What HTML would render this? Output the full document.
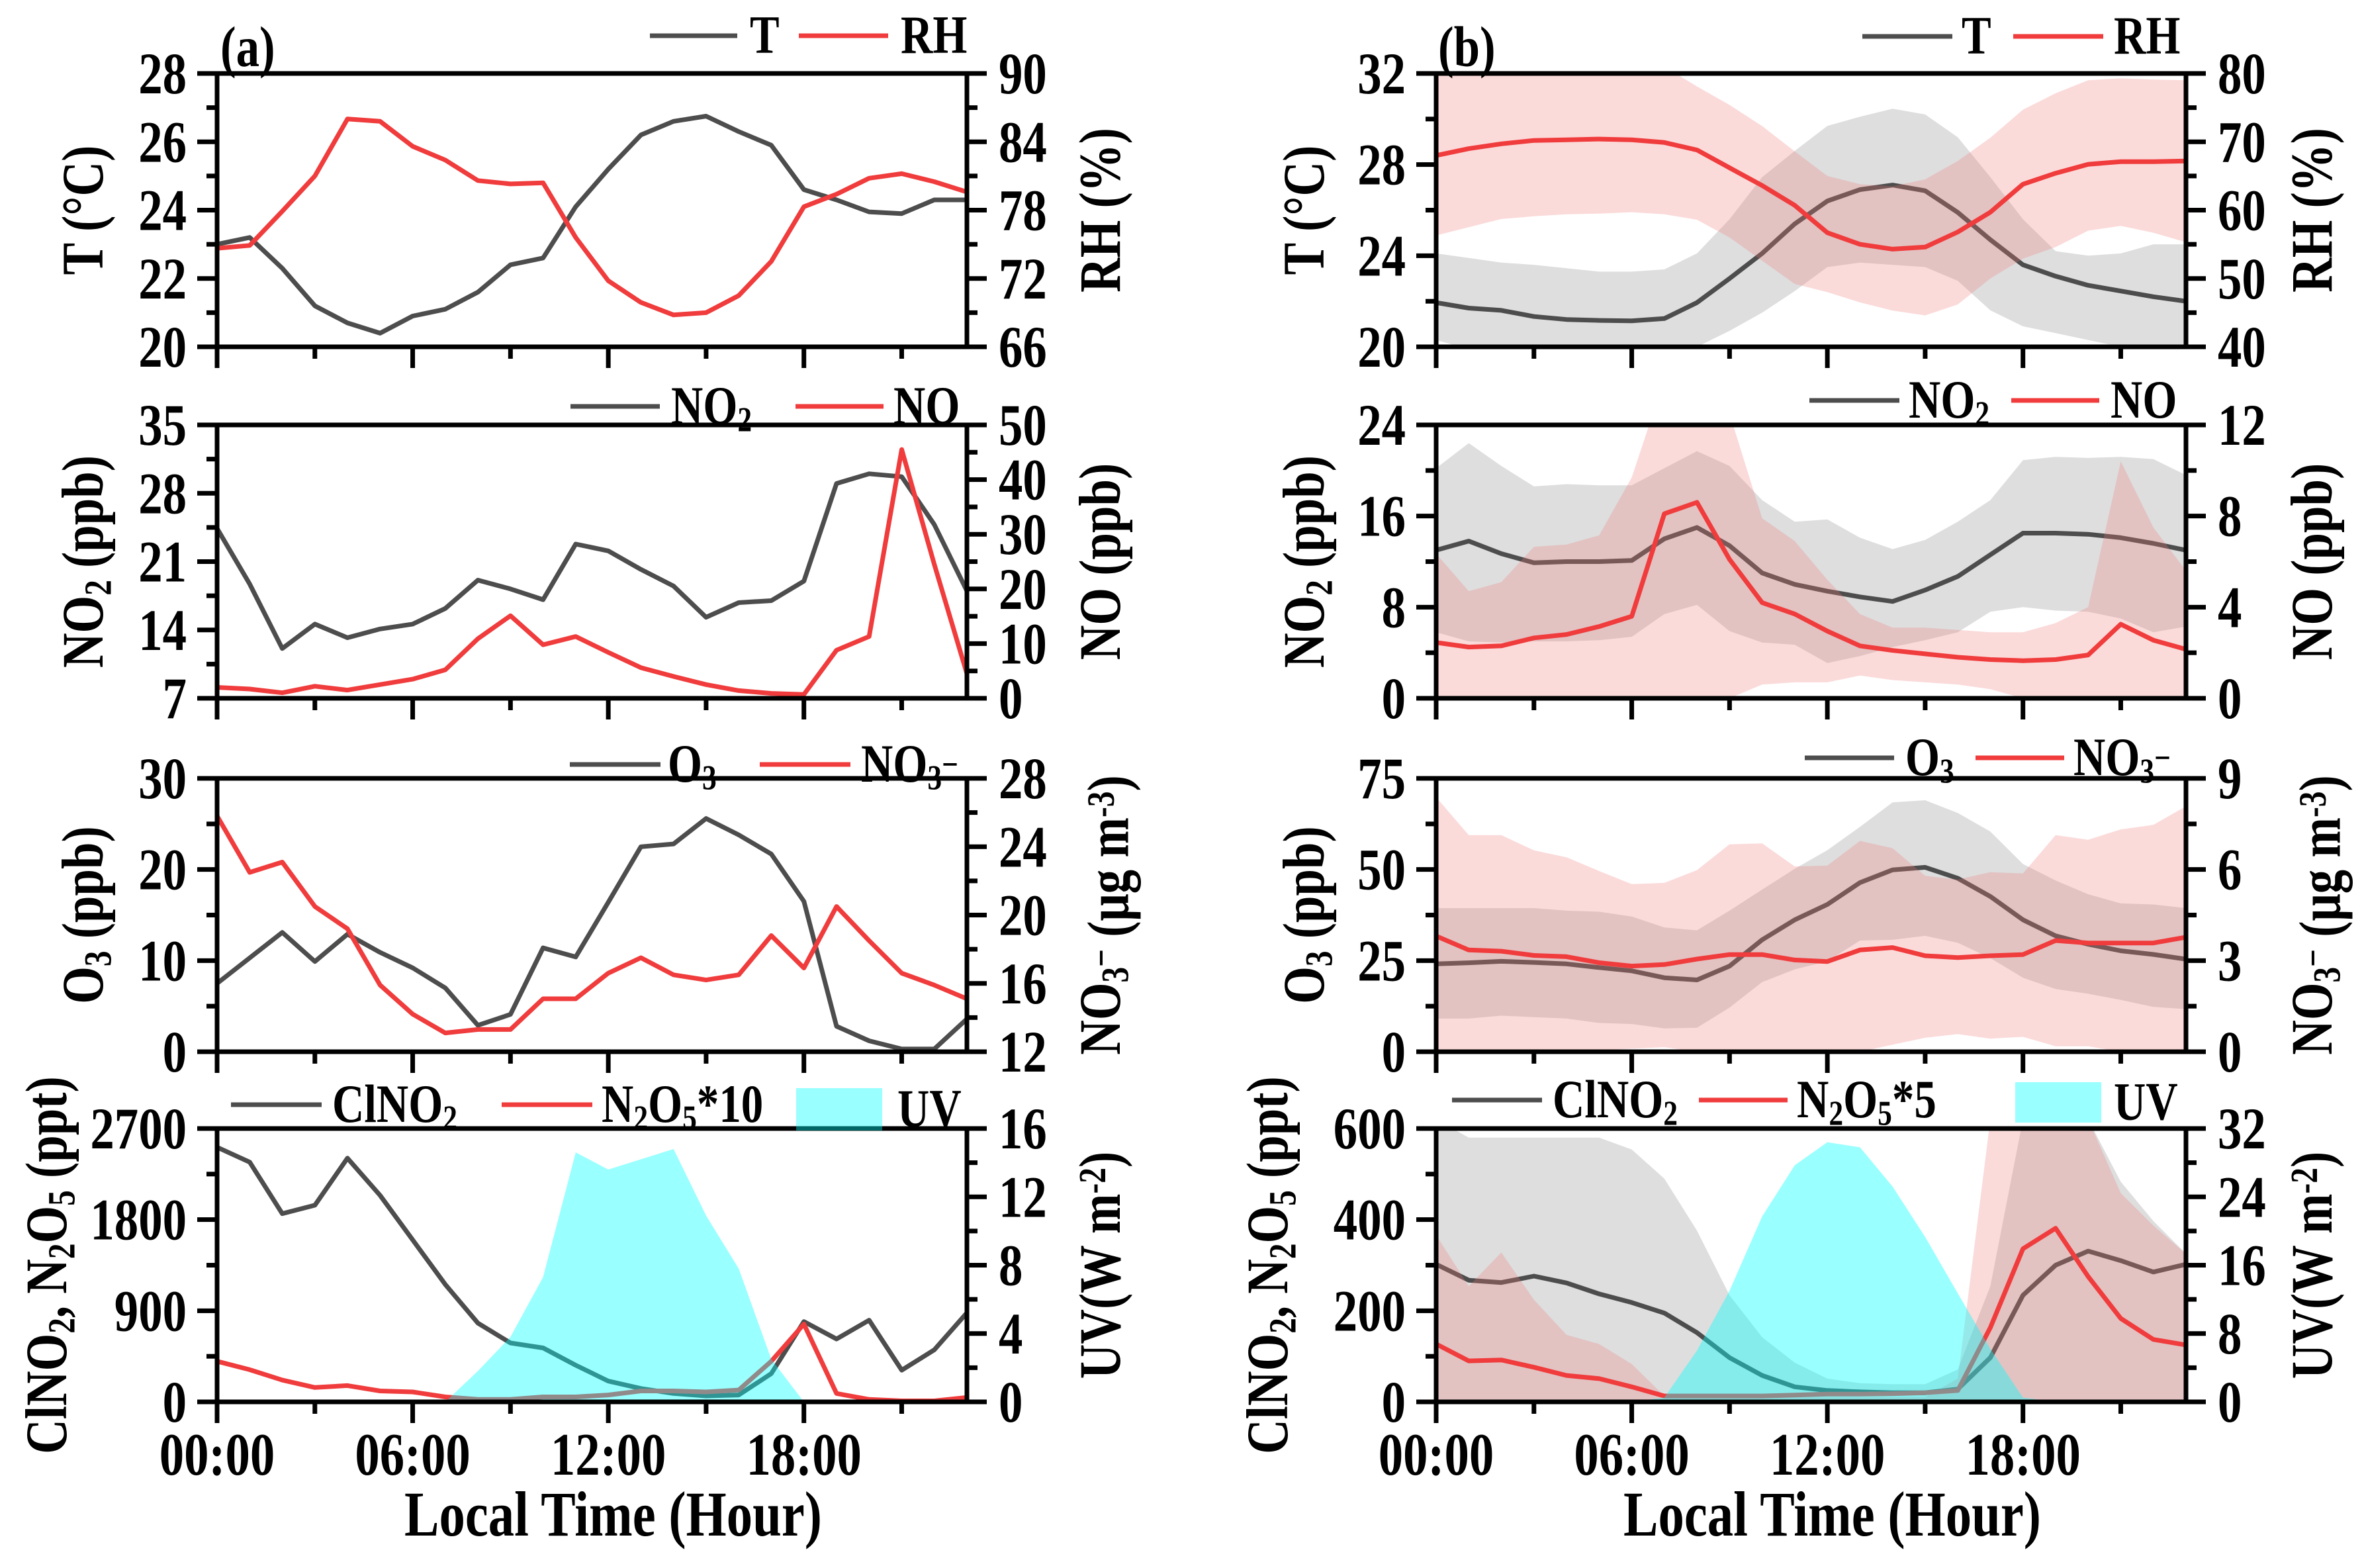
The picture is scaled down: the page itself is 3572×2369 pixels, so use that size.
<!DOCTYPE html>
<html><head><meta charset="utf-8"><style>
html,body{margin:0;padding:0;background:#fff}
svg text{font-family:"Liberation Serif","DejaVu Serif",serif;font-weight:bold;fill:#000}
</style></head><body>
<svg id="chart" xmlns="http://www.w3.org/2000/svg" width="3572" height="2364" viewBox="0 0 3572 2364">
<rect x="0" y="0" width="3572" height="2364" fill="#fff"/>
</svg>
<script>
// ---------- data (hour 0..23) ----------
const hours = [0,1,2,3,4,5,6,7,8,9,10,11,12,13,14,15,16,17,18,19,20,21,22,23];
// panel (a)
const aT   = [23.0,23.2,22.3,21.2,20.7,20.4,20.9,21.1,21.6,22.4,22.6,24.1,25.2,26.2,26.6,26.75,26.3,25.9,24.6,24.3,23.95,23.9,24.3,24.3];
const aRH  = [74.65,74.9,77.9,81,86,85.8,83.6,82.4,80.6,80.3,80.4,75.6,71.8,69.9,68.8,69,70.5,73.5,78.3,79.4,80.8,81.2,80.5,79.6];
const aNO2 = [24.4,18.7,12.1,14.6,13.2,14.1,14.6,16.2,19.1,18.2,17.1,22.8,22.1,20.2,18.5,15.3,16.8,17,19,29,30,29.7,24.8,18];
const aNO  = [2,1.7,1,2.2,1.5,2.5,3.5,5.2,10.9,15.1,9.8,11.3,8.4,5.6,4,2.5,1.4,0.9,0.7,8.8,11.3,45.5,24.5,4.5];
const aO3  = [7.5,10.3,13.1,9.9,12.9,10.9,9.2,7,2.9,4.1,11.4,10.4,16.4,22.5,22.8,25.6,23.8,21.7,16.5,2.8,1.2,0.3,0.3,3.6];
const aNO3 = [25.8,22.5,23.1,20.5,19.2,15.9,14.2,13.1,13.3,13.3,15.1,15.1,16.6,17.5,16.5,16.2,16.5,18.8,16.9,20.5,18.5,16.6,15.9,15.1];
const aClNO2 = [2515,2368,1859,1942,2407,2040,1600,1160,778,582,533,362,205,132,83,59,68,279,793,621,807,313,514,880];
const aN2O5  = [401,318,215,142,161,108,98,49,24,24,49,49,68,108,108,98,117,401,768,83,24,10,10,44];
const aUV    = [0,0,0,0,0,0,0,0,1.8,3.8,7.3,14.6,13.6,14.2,14.8,10.9,7.8,2.5,0,0,0,0,0,0];
// panel (b) means and ranges
const bT   = [21.94,21.7,21.6,21.33,21.2,21.16,21.14,21.24,21.94,23,24.1,25.4,26.4,26.9,27.1,26.85,25.9,24.7,23.6,23.1,22.7,22.45,22.2,22];
const bTHi = [24.1,23.9,23.7,23.6,23.45,23.3,23.3,23.4,24.1,25.6,27.45,28.6,29.7,30.1,30.45,30.2,29.2,27.45,25.6,24.2,24,24.1,24.5,24.5];
const bTLo = [20.3,19.9,19.5,19.5,19.5,19.5,19.5,19.5,20,20.7,21.5,22.45,23.5,23.7,23.6,23.5,22.9,21.6,20.9,20.6,20.3,20,19.9,19.9];
const bRH  = [68,69,69.7,70.2,70.3,70.4,70.3,69.9,68.8,66.2,63.6,60.7,56.7,55,54.3,54.6,56.8,59.7,63.8,65.4,66.7,67.1,67.1,67.2];
const bRHHi= [81,81,81,81,81,81,81,81,78.1,75.4,72.3,68.6,65,63.8,63.5,64.5,67.2,70.6,74.7,77.1,79,79.3,79.1,79];
const bRHLo= [56.3,57.5,58.7,59.1,59.4,59.5,59.7,59.4,58.6,56,52.6,49.2,48,46.5,45.3,44.6,46.2,50,52.9,54.6,57,57.7,56.7,55.3];
const bNO2  = [13,13.8,12.7,11.9,12,12,12.1,14,15,13.4,11,10,9.4,8.9,8.5,9.5,10.7,12.6,14.5,14.5,14.4,14.1,13.6,13];
const bNO2Hi= [20.2,22.4,20.4,18.6,18.8,18.7,18.7,20.2,21.7,20.4,17.4,15.5,15.7,14.1,13.1,13.9,15.5,17.4,20.9,21.2,21.1,21.2,21,19.6];
const bNO2Lo= [5.8,5,4.9,5,5,5.1,5.4,7.4,8.2,5.9,4.9,4.7,3.1,3.7,4.5,5.1,5.8,7.6,8,7.7,7.6,7,5.8,6.3];
const bNO   = [2.45,2.25,2.3,2.65,2.8,3.15,3.6,8.1,8.6,6.1,4.2,3.7,2.95,2.3,2.1,1.95,1.8,1.7,1.65,1.7,1.9,3.25,2.55,2.15];
const bNOHi = [6.35,4.7,5.1,6.65,6.75,7.15,9.7,14,14,12.5,7.9,6.9,5.2,3.7,3.1,3.1,3,2.9,2.9,3.3,4,10.4,7.5,5.6];
const bNOLo = [0,0,0,0,0,0,0,0,0,0,0.6,0.7,0.7,1,0.8,0.7,0.6,0.4,0,0,0,0,0,0];
const bO3   = [24.1,24.4,24.8,24.5,24.1,23.1,22.2,20.3,19.7,23.5,30.7,36.2,40.4,46.4,49.9,50.6,47.6,42.6,36.2,31.8,29.5,27.7,26.7,25.4];
const bO3Hi = [39.4,39.4,39.4,39.4,38.7,38.4,37.1,34.1,33.3,38.7,44.5,50.2,55.3,61.7,68.4,69,65.5,60.4,51.5,47,43.2,40.7,40.4,39.4];
const bO3Lo = [9.1,9.1,9.9,9.5,9.1,7.9,7.6,6.4,6.6,12.1,19.1,22.6,24.8,30.5,30.7,31.8,29.9,25.7,20.3,17.2,15.9,14.2,12.3,11.7];
const bNO3  = [3.81,3.35,3.31,3.17,3.13,2.93,2.82,2.87,3.05,3.2,3.2,3.02,2.97,3.35,3.43,3.16,3.1,3.16,3.2,3.66,3.58,3.58,3.58,3.77];
const bNO3Hi= [8.38,7.13,7.13,6.63,6.4,5.95,5.52,5.56,5.98,6.83,6.86,6.1,6.13,6.94,6.7,5.79,5.67,5.91,5.87,7.13,6.98,7.32,7.47,8.08];
const bNO3Lo= [0,0,0,0,0,0.05,0.1,0.15,0,0,0,0,0,0,0.23,0.46,0.58,0.43,0.49,0.18,0.18,0,0,0];
const bClNO2  = [302,267,262,276,261,237,218,195,152,97,58,33,25,22,20,20,28,97,234,300,331,310,285,302];
const bClNO2Hi= [620,580,580,580,580,580,554,490,376,234,142,86,51,41,39,39,71,254,620,620,620,483,397,325];
const bClNO2Lo= [0,0,0,0,0,0,0,5,5,5,5,5,5,5,5,5,5,0,0,0,0,0,0,0];
const bN2O5   = [127,90,92,76,58,51,33,13,13,13,13,15,17,17,18,20,25,163,336,381,275,183,137,125];
const bN2O5Hi = [366,254,328,224,147,127,83,13,10,10,10,10,10,10,10,10,51,620,620,620,620,458,387,325];
const bN2O5Lo = [0,0,0,0,0,0,0,0,0,0,0,0,0,0,0,0,0,0,0,0,0,0,0,0];
const bUV     = [0,0,0,0,0,0,0,0.5,6,13,21.7,27.7,30.4,29.8,25.2,19.3,12.7,6.2,0.5,0,0,0,0,0];
// tick labels
const xTickLabels = ["00:00","06:00","12:00","18:00"];

// ---------- drawing ----------
const NS = "http://www.w3.org/2000/svg";
const svg = document.getElementById("chart");
const GREY = "#4d4d4d", RED = "#f03c3c";
const BAND_GREY = "rgba(128,128,128,0.26)", BAND_RED = "rgba(240,120,120,0.27)", UVC = "rgba(0,255,255,0.4)";
const H = 413;
const TOPS = [111, 642, 1176, 1705];
const COLS = {a:[328,1461], b:[2170,3303]};
const FS = 1.2, SX = 0.82;

function el(tag, attrs, parent, name, inter) {
  const e = document.createElementNS(NS, tag);
  for (const k in attrs) e.setAttribute(k, attrs[k]);
  
  
  (parent || svg).appendChild(e);
  return e;
}
function txt(x, y, html, size, anchor, name, parent, rot) {
  const t = el('text', {x:0, y:0, 'font-size':size*FS, 'text-anchor':anchor||'start'}, parent, name, false);
  t.setAttribute('transform', rot ? `translate(${x} ${y}) rotate(-90) scale(${SX} 1)` : `translate(${x} ${y}) scale(${SX} 1)`);
  t.innerHTML = html;
  return t;
}
const sub = (s) => `<tspan dy="0.22em" font-size="65%">${s}</tspan><tspan dy="-0.143em">`;
const sup = (s) => `<tspan dy="-0.38em" font-size="65%">${s}</tspan><tspan dy="0.247em">`;

function makePanel(id, col, row, lDom, rDom, lTicks, lMinor, rTicks, rMinor) {
  const [x0, x1] = COLS[col];
  const y0 = TOPS[row], y1 = y0 + H;
  const g = el('g', {}, svg, 'panel-' + id, false);
  const X = h => x0 + (h / 23) * (x1 - x0);
  const YL = v => y1 - (v - lDom[0]) / (lDom[1] - lDom[0]) * H;
  const YR = v => y1 - (v - rDom[0]) / (rDom[1] - rDom[0]) * H;
  const cid = 'clip-' + id;
  const cp = el('clipPath', {id: cid}, g, 'clip-' + id, false);
  el('rect', {x:x0, y:y0, width:x1-x0, height:H}, cp, 'clip-rect', false);
  const plot = el('g', {'clip-path': `url(#${cid})`}, g, 'plot-area-' + id, false);
  return {g, plot, X, YL, YR, x0, x1, y0, y1, lDom, rDom, lTicks, lMinor, rTicks, rMinor, id};
}
function linePath(P, arr, Y) {
  return arr.map((v, i) => (i ? 'L' : 'M') + P.X(hours[i]).toFixed(1) + ',' + Y(v).toFixed(1)).join('');
}
function drawLine(P, arr, Y, color, name) {
  el('path', {d: linePath(P, arr, Y), fill:'none', stroke:color, 'stroke-width':7, 'stroke-linejoin':'round'}, P.plot, name, false);
}
function drawBand(P, lo, hi, Y, color, name) {
  let d = linePath(P, hi, Y);
  for (let i = lo.length - 1; i >= 0; i--) d += 'L' + P.X(hours[i]).toFixed(1) + ',' + Y(lo[i]).toFixed(1);
  el('path', {d: d + 'Z', fill: color, stroke: 'none'}, P.plot, name, false);
}
function drawArea(P, arr, Y, color, name) {
  let d = linePath(P, arr, Y);
  d += `L${P.X(23)},${Y(0)}L${P.X(0)},${Y(0)}Z`;
  el('path', {d, fill: color, stroke: 'none'}, P.plot, name, false);
}
function drawAxes(P, lTitle, rTitle, lx, rx, showX) {
  const g = P.g;
  el('rect', {x:P.x0, y:P.y0, width:P.x1-P.x0, height:H, fill:'none', stroke:'#000', 'stroke-width':7}, g, 'plot-frame', false);
  const S = {stroke:'#000', 'stroke-width':7};
  P.lTicks.forEach(v => {
    const y = P.YL(v);
    el('line', {x1:P.x0-30, x2:P.x0, y1:y, y2:y, ...S}, g, 'left-tick', false);
    txt(P.x0 - 46, y + 30, String(v), 74, 'end', 'left-tick-label', g);
  });
  P.lMinor.forEach(v => { const y = P.YL(v); el('line', {x1:P.x0-16, x2:P.x0, y1:y, y2:y, ...S}, g, 'left-minor-tick', false); });
  P.rTicks.forEach(v => {
    const y = P.YR(v);
    el('line', {x1:P.x1, x2:P.x1+30, y1:y, y2:y, ...S}, g, 'right-tick', false);
    txt(P.x1 + 48, y + 30, String(v), 74, 'start', 'right-tick-label', g);
  });
  P.rMinor.forEach(v => { const y = P.YR(v); el('line', {x1:P.x1, x2:P.x1+16, y1:y, y2:y, ...S}, g, 'right-minor-tick', false); });
  for (let h = 0; h <= 21; h += 3) {
    const x = P.X(h), major = h % 6 === 0;
    el('line', {x1:x, x2:x, y1:P.y1, y2:P.y1 + (major ? 32 : 18), ...S}, g, major ? 'x-tick' : 'x-minor-tick', false);
  }
  if (showX) {
    xTickLabels.forEach((lab, i) => { txt(P.X(i * 6), 2228, lab, 76, 'middle', 'x-tick-label', g); });
    txt((P.x0 + P.x1) / 2 + 32, 2320, 'Local Time (Hour)', 80, 'middle', 'x-axis-title', g);
  }
  const cy = (P.y0 + P.y1) / 2;
  txt(lx, cy, lTitle, 74, 'middle', 'left-axis-title', g, true);
  txt(rx, cy, rTitle, 74, 'middle', 'right-axis-title', g, true);
}
function legendLine(x1, x2, y, color, label, tx, parent) {
  el('line', {x1, x2, y1:y, y2:y, stroke:color, 'stroke-width':7}, parent, 'legend-line', false);
  txt(tx, y + 26, label, 68, 'start', 'legend-label', parent);
}
function legendBox(x1, x2, y1, y2, label, tx, parent) {
  el('rect', {x:x1, y:y1, width:x2-x1, height:y2-y1, fill:UVC}, parent, 'legend-swatch', false);
  txt(tx, (y1+y2)/2 + 26, label, 68, 'start', 'legend-label', parent);
}
const range = (a, b, s) => { const r = []; for (let v = a; v <= b + 1e-9; v += s) r.push(+v.toFixed(3)); return r; };

// ===== Panel a1 =====
let P = makePanel('a1','a',0,[20,28],[66,90],range(20,28,2),range(21,27,2),range(66,90,6),range(69,87,6));
drawLine(P, aT, P.YL, GREY, 'line-temperature');
drawLine(P, aRH, P.YR, RED, 'line-rh');
drawAxes(P, 'T (°C)', 'RH (%)', 155, 1692, false);
legendLine(982,1114,54,GREY,'T',1133,P.g); legendLine(1207,1342,54,RED,'RH',1361,P.g);
txt(333, 100, '(a)', 72, 'start', 'panel-label-a', P.g);

// ===== Panel a2 =====
P = makePanel('a2','a',1,[7,35],[0,50],range(7,35,7),range(10.5,31.5,7),range(0,50,10),range(5,45,10));
drawLine(P, aNO2, P.YL, GREY, 'line-no2');
drawLine(P, aNO, P.YR, RED, 'line-no');
drawAxes(P, 'NO'+sub('2')+' (ppb)</tspan>', 'NO (ppb)', 155, 1692, false);
legendLine(862,997,614,GREY,'NO'+sub('2')+'</tspan>',1014,P.g); legendLine(1202,1335,614,RED,'NO',1350,P.g);

// ===== Panel a3 =====
P = makePanel('a3','a',2,[0,30],[12,28],range(0,30,10),range(5,25,10),range(12,28,4),range(14,26,4));
drawLine(P, aO3, P.YL, GREY, 'line-o3');
drawLine(P, aNO3, P.YR, RED, 'line-no3');
drawAxes(P, 'O'+sub('3')+' (ppb)</tspan>', 'NO'+sub('3')+sup('−')+' (μg m'+sup('-3')+')</tspan></tspan></tspan>', 155, 1692, false);
legendLine(861,998,1155,GREY,'O'+sub('3')+'</tspan>',1009,P.g); legendLine(1148,1285,1155,RED,'NO'+sub('3')+sup('−')+'</tspan></tspan>',1301,P.g);

// ===== Panel a4 =====
P = makePanel('a4','a',3,[0,2700],[0,16],range(0,2700,900),range(450,2250,900),range(0,16,4),range(2,14,4));
drawLine(P, aClNO2, P.YL, GREY, 'line-clno2');
drawLine(P, aN2O5, P.YL, RED, 'line-n2o5');
drawArea(P, aUV, P.YR, UVC, 'area-uv');
drawAxes(P, 'ClNO'+sub('2')+', N'+sub('2')+'O'+sub('5')+' (ppt)</tspan></tspan></tspan>', 'UV(W m'+sup('-2')+')</tspan>', 100, 1692, true);
legendLine(349,486,1669,GREY,'ClNO'+sub('2')+'</tspan>',502,P.g);
legendLine(758,895,1669,RED,'N'+sub('2')+'O'+sub('5')+'*10</tspan></tspan>',909,P.g);
legendBox(1203,1333,1644,1708,'UV',1356,P.g);

// ===== Panel b1 =====
P = makePanel('b1','b',0,[20,32],[40,80],range(20,32,4),range(22,30,4),range(40,80,10),range(45,75,10));
drawBand(P, bTLo, bTHi, P.YL, BAND_GREY, 'band-temperature');
drawLine(P, bT, P.YL, GREY, 'line-temperature');
drawBand(P, bRHLo, bRHHi, P.YR, BAND_RED, 'band-rh');
drawLine(P, bRH, P.YR, RED, 'line-rh');
drawAxes(P, 'T (°C)', 'RH (%)', 2000, 3523, false);
legendLine(2814,2950,55,GREY,'T',2964,P.g); legendLine(3042,3178,55,RED,'RH',3194,P.g);
txt(2173, 100, '(b)', 72, 'start', 'panel-label-b', P.g);

// ===== Panel b2 =====
P = makePanel('b2','b',1,[0,24],[0,12],range(0,24,8),range(4,20,8),range(0,12,4),range(2,10,4));
drawBand(P, bNO2Lo, bNO2Hi, P.YL, BAND_GREY, 'band-no2');
drawLine(P, bNO2, P.YL, GREY, 'line-no2');
drawBand(P, bNOLo, bNOHi, P.YR, BAND_RED, 'band-no');
drawLine(P, bNO, P.YR, RED, 'line-no');
drawAxes(P, 'NO'+sub('2')+' (ppb)</tspan>', 'NO (ppb)', 2000, 3523, false);
legendLine(2734,2870,605,GREY,'NO'+sub('2')+'</tspan>',2884,P.g); legendLine(3039,3172,605,RED,'NO',3189,P.g);

// ===== Panel b3 =====
P = makePanel('b3','b',2,[0,75],[0,9],range(0,75,25),range(12.5,62.5,25),range(0,9,3),range(1.5,7.5,3));
drawBand(P, bO3Lo, bO3Hi, P.YL, BAND_GREY, 'band-o3');
drawLine(P, bO3, P.YL, GREY, 'line-o3');
drawBand(P, bNO3Lo, bNO3Hi, P.YR, BAND_RED, 'band-no3');
drawLine(P, bNO3, P.YR, RED, 'line-no3');
drawAxes(P, 'O'+sub('3')+' (ppb)</tspan>', 'NO'+sub('3')+sup('−')+' (μg m'+sup('-3')+')</tspan></tspan></tspan>', 2000, 3523, false);
legendLine(2727,2862,1145,GREY,'O'+sub('3')+'</tspan>',2879,P.g); legendLine(2985,3119,1145,RED,'NO'+sub('3')+sup('−')+'</tspan></tspan>',3133,P.g);

// ===== Panel b4 =====
P = makePanel('b4','b',3,[0,600],[0,32],range(0,600,200),range(100,500,200),range(0,32,8),range(4,28,8));
drawBand(P, bClNO2Lo, bClNO2Hi, P.YL, BAND_GREY, 'band-clno2');
drawLine(P, bClNO2, P.YL, GREY, 'line-clno2');
drawBand(P, bN2O5Lo, bN2O5Hi, P.YL, BAND_RED, 'band-n2o5');
drawLine(P, bN2O5, P.YL, RED, 'line-n2o5');
drawArea(P, bUV, P.YR, UVC, 'area-uv');
drawAxes(P, 'ClNO'+sub('2')+', N'+sub('2')+'O'+sub('5')+' (ppt)</tspan></tspan></tspan>', 'UV(W m'+sup('-2')+')</tspan>', 1945, 3523, true);
legendLine(2194,2330,1662,GREY,'ClNO'+sub('2')+'</tspan>',2346,P.g);
legendLine(2567,2701,1662,RED,'N'+sub('2')+'O'+sub('5')+'*5</tspan></tspan>',2715,P.g);
legendBox(3045,3175,1635,1696,'UV',3194,P.g);
</script>
</body></html>
